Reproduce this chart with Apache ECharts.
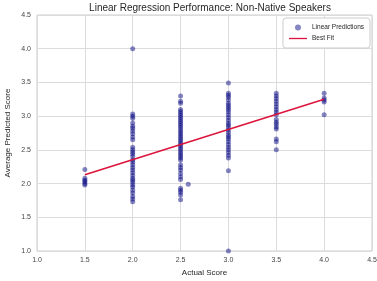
<!DOCTYPE html>
<html>
<head>
<meta charset="utf-8">
<script src="https://cdn.jsdelivr.net/npm/echarts@6/dist/echarts.min.js"></script>
<style>
  html, body { margin: 0; padding: 0; background: #fff; }
  #chart { width: 377px; height: 281px; }
</style>
</head>
<body>
<div id="chart"></div>
<script>
// predicted scores grouped by actual score
const actualScores = [1.5, 2.0, 2.5, 3.0, 3.5, 4.0];
const pred15 = [2.21, 2.08, 2.05, 2.03, 2.00, 1.98];
const pred20 = [4.00, 3.03, 3.00, 2.97, 2.90, 2.85, 2.82, 2.78, 2.74, 2.69, 2.65, 2.54, 2.50, 2.47, 2.44, 2.40,
  2.35, 2.32, 2.28, 2.24, 2.20, 2.16, 2.12, 2.08, 2.05, 2.02, 1.98, 1.95, 1.90, 1.86, 1.81, 1.77, 1.73];
const pred25 = [3.30, 3.22, 3.19, 3.10, 3.07, 3.04, 3.01, 2.98, 2.95, 2.92, 2.89, 2.86, 2.83, 2.80, 2.77, 2.74,
  2.71, 2.68, 2.65, 2.62, 2.59, 2.56, 2.53, 2.50, 2.47, 2.44, 2.41, 2.38, 2.35, 2.28, 2.24, 2.20, 2.15, 2.10,
  2.06, 1.93, 1.90, 1.87, 1.83, 1.76];
const pred30 = [3.49, 3.34, 3.31, 3.28, 3.24, 3.19, 3.16, 3.13, 3.10, 3.06, 3.02, 2.98, 2.94, 2.90, 2.87, 2.84,
  2.80, 2.76, 2.72, 2.69, 2.66, 2.62, 2.58, 2.54, 2.50, 2.46, 2.42, 2.38, 2.19, 1.00];
const pred35 = [3.34, 3.30, 3.26, 3.22, 3.18, 3.14, 3.10, 3.06, 3.02, 2.95, 2.91, 2.88, 2.84, 2.81, 2.66, 2.62, 2.50];
const pred40 = [3.34, 3.27, 3.24, 3.21, 3.02];
const extraPoints = [[2.58, 1.99]];

const fitX = [1.5, 4.0];
const fitY = [2.13, 3.25];

const axisTicks = [1.0, 1.5, 2.0, 2.5, 3.0, 3.5, 4.0, 4.5];

const groups = [pred15, pred20, pred25, pred30, pred35, pred40];
const scatterData = [];
groups.forEach((g, i) => g.forEach(v => scatterData.push([actualScores[i], v])));
extraPoints.forEach(p => scatterData.push(p));
const fitData = fitX.map((x, i) => [x, fitY[i]]);

const font = 'Liberation Sans';
const gridColor = '#dcdcdc';
const labelStyle = { color: '#444', fontSize: 7, fontFamily: font };

const chart = echarts.init(document.getElementById('chart'), null, { renderer: 'canvas' });
chart.setOption({
  animation: false,
  backgroundColor: '#fff',
  title: {
    text: 'Linear Regression Performance: Non-Native Speakers',
    left: 205,
    textAlign: 'center',
    top: -2,
    textStyle: { fontSize: 10, fontWeight: 'normal', color: '#262626', fontFamily: font }
  },
  legend: {
    orient: 'vertical',
    right: 7,
    top: 18,
    padding: [6, 6, 6, 6],
    itemGap: 4,
    itemWidth: 18,
    itemHeight: 6,
    borderColor: '#cccccc',
    borderWidth: 1,
    borderRadius: 3,
    backgroundColor: '#fff',
    textStyle: { fontSize: 6.5, color: '#262626', fontFamily: font },
    data: [
      { name: 'Linear Predictions', icon: 'circle' },
      { name: 'Best Fit', icon: 'path://M0 0H30V2.2H0Z' }
    ]
  },
  grid: {
    left: 37, right: 5, top: 15, bottom: 30,
    outerBoundsMode: 'none',
    containLabel: false,
    show: true, borderColor: '#cccccc', borderWidth: 1
  },
  xAxis: {
    type: 'value',
    min: 1.0, max: 4.5, interval: 0.5,
    name: 'Actual Score',
    nameLocation: 'middle',
    nameGap: 17,
    nameTextStyle: { fontSize: 8, color: '#262626', fontFamily: font },
    axisLine: { show: false },
    axisTick: { show: false },
    axisLabel: Object.assign({ margin: 6, formatter: v => axisTicks.includes(v) ? v.toFixed(1) : '' }, labelStyle),
    splitLine: { show: true, lineStyle: { color: gridColor, width: 1 } }
  },
  yAxis: {
    type: 'value',
    min: 1.0, max: 4.5, interval: 0.5,
    name: 'Average Predicted Score',
    nameLocation: 'middle',
    nameMoveOverlap: false,
    nameGap: 25,
    nameTextStyle: { fontSize: 8, color: '#262626', fontFamily: font },
    axisLine: { show: false },
    axisTick: { show: false },
    axisLabel: Object.assign({ margin: 6, formatter: v => axisTicks.includes(v) ? v.toFixed(1) : '' }, labelStyle),
    splitLine: { show: true, lineStyle: { color: gridColor, width: 1 } }
  },
  series: [
    {
      name: 'Linear Predictions',
      type: 'scatter',
      symbol: 'circle',
      symbolSize: 5,
      itemStyle: { color: 'rgba(0,0,128,0.6)' },
      data: scatterData,
      z: 2
    },
    {
      name: 'Best Fit',
      type: 'line',
      symbol: 'none',
      showSymbol: false,
      lineStyle: { color: '#dc143c', width: 1.5 },
      itemStyle: { color: '#dc143c' },
      data: fitData,
      z: 3
    }
  ]
});
</script>
</body>
</html>
